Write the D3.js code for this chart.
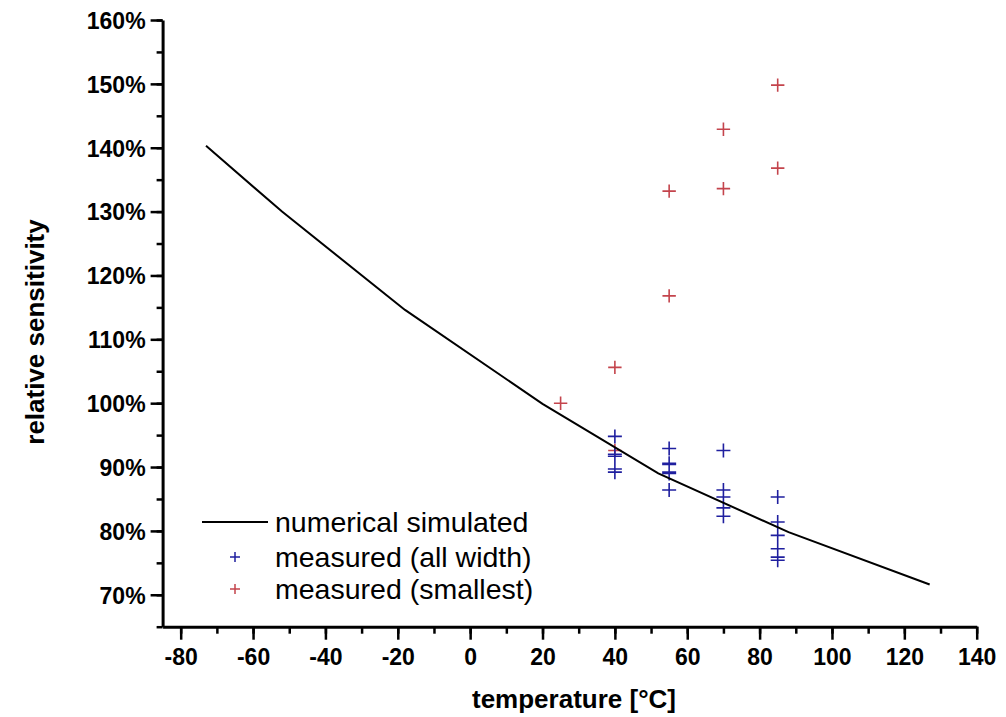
<!DOCTYPE html>
<html>
<head>
<meta charset="utf-8">
<script src="https://cdn.jsdelivr.net/npm/d3@7"></script>
<style>
  body { margin: 0; background: #fff; }
  svg { display: block; font-family: "Liberation Sans", Arial, sans-serif; }
</style>
</head>
<body>
<div id="chart"></div>
<script>
// simulated curve
var simTemp = [-73, -52, -18, 20, 52, 88, 127];
var simSens = [140.3, 130.0, 114.6, 99.9, 89.0, 79.8, 71.6];

// measured, all widths
var allTemp = [40, 40, 40, 40, 40, 55, 55, 55, 55, 55, 55, 70, 70, 70, 70, 70, 85, 85, 85, 85, 85, 85];
var allSens = [94.8, 92.0, 91.7, 89.7, 89.2, 92.9, 90.6, 90.4, 89.2, 89.0, 86.4, 92.6, 86.4, 85.3, 83.6, 82.3, 85.3, 81.4, 79.3, 77.2, 75.9, 75.4];

// measured, smallest width
var smallTemp = [25, 40, 40, 55, 55, 70, 70, 85, 85];
var smallSens = [100.0, 105.6, 92.6, 133.2, 116.8, 142.9, 133.6, 149.8, 136.8];

var xTicks = [-80, -60, -40, -20, 0, 20, 40, 60, 80, 100, 120, 140];
var yTicks = [70, 80, 90, 100, 110, 120, 130, 140, 150, 160];

var legendLabels = ["numerical simulated", "measured (all width)", "measured (smallest)"];

var width = 1006, height = 717;
var blue = "#1f1f9f", red = "#c4444c";

var svg = d3.select("#chart").append("svg")
	.attr("width", width)
	.attr("height", height);

var x = d3.scaleLinear().domain([-85, 140]).range([162.6, 976.7]);
var y = d3.scaleLinear().domain([65, 160]).range([626.7, 20]);

// minor ticks first, majors on top
var xMinor = d3.range(-80, 141, 10);
var yMinor = d3.range(65, 161, 5);

svg.append("g")
	.attr("transform", "translate(0," + y(65) + ")")
	.call(d3.axisBottom(x).tickValues(xMinor).tickSize(7).tickFormat("").tickSizeOuter(0))
	.call(function (g) { g.select(".domain").remove(); })
	.selectAll("line").attr("stroke-width", 2.5);

svg.append("g")
	.attr("transform", "translate(" + x(-85) + ",0)")
	.call(d3.axisLeft(y).tickValues(yMinor).tickSize(6).tickFormat("").tickSizeOuter(0))
	.call(function (g) { g.select(".domain").remove(); })
	.selectAll("line").attr("stroke-width", 2.5);

var xAxis = svg.append("g")
	.attr("transform", "translate(0," + y(65) + ")")
	.call(d3.axisBottom(x).tickValues(xTicks).tickSize(13).tickPadding(9).tickSizeOuter(0)
		.tickFormat(function (d) { return String(d); }));

var yAxis = svg.append("g")
	.attr("transform", "translate(" + x(-85) + ",0)")
	.call(d3.axisLeft(y).tickValues(yTicks).tickSize(12).tickPadding(5).tickSizeOuter(0)
		.tickFormat(function (d) { return d + "%"; }));

[xAxis, yAxis].forEach(function (g) {
	g.select(".domain").attr("stroke-width", 3).attr("stroke", "#000");
	g.selectAll(".tick line").attr("stroke-width", 2.5).attr("stroke", "#000");
	g.selectAll(".tick text")
		.attr("fill", "#000")
		.style("font-size", "23px")
		.style("font-weight", "bold")
		.style("font-family", "'Liberation Sans', Arial, sans-serif");
});
yAxis.selectAll(".tick text").attr("dy", "0.36em");

// axis titles
svg.append("text")
	.attr("x", 574)
	.attr("y", 708)
	.attr("text-anchor", "middle")
	.style("font-size", "26px")
	.style("font-weight", "bold")
	.text("temperature [°C]");

svg.append("text")
	.attr("transform", "translate(44,332) rotate(-90)")
	.attr("text-anchor", "middle")
	.style("font-size", "26px")
	.style("font-weight", "bold")
	.text("relative sensitivity");

// plus markers
function plus(sel, tx, ty, half, color) {
	var d = d3.range(tx.length).map(function (i) {
		var px = x(tx[i]), py = y(ty[i]);
		return "M" + (px - half) + "," + py + "H" + (px + half) +
			"M" + px + "," + (py - half) + "V" + (py + half);
	}).join("");
	sel.append("path")
		.attr("d", d)
		.attr("fill", "none")
		.attr("stroke", color)
		.attr("stroke-width", 1.6);
}

plus(svg, smallTemp, smallSens, 6.7, red);
plus(svg, allTemp, allSens, 7, blue);

var line = d3.line()
	.x(function (d, i) { return x(simTemp[i]); })
	.y(function (d, i) { return y(simSens[i]); });

svg.append("path")
	.attr("d", line(simTemp))
	.attr("fill", "none")
	.attr("stroke", "#000")
	.attr("stroke-width", 2);

// legend
var legend = svg.append("g");
var rowY = [522, 557, 589];

legend.append("line")
	.attr("x1", 202).attr("x2", 268)
	.attr("y1", rowY[0]).attr("y2", rowY[0])
	.attr("stroke", "#000").attr("stroke-width", 2);

[blue, red].forEach(function (c, i) {
	var cy = rowY[i + 1];
	legend.append("path")
		.attr("d", "M230," + cy + "H240M235," + (cy - 5) + "V" + (cy + 5))
		.attr("stroke", c).attr("stroke-width", 1.5).attr("fill", "none");
});

legend.selectAll("text.lbl")
	.data(legendLabels)
	.enter().append("text")
	.attr("class", "lbl")
	.attr("x", 275)
	.attr("y", function (d, i) { return rowY[i]; })
	.attr("dy", "0.36em")
	.style("font-size", "28.5px")
	.text(function (d) { return d; });
</script>
</body>
</html>
